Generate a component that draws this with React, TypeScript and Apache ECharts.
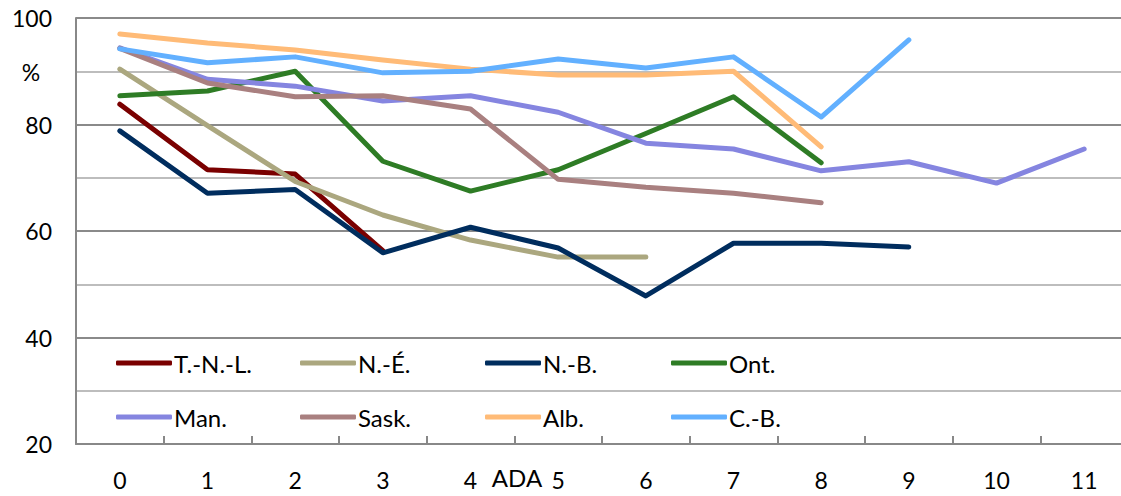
import React, { useEffect, useRef } from "react";
import * as echarts from "echarts";

const categories = ["0", "1", "2", "3", "4", "5", "6", "7", "8", "9", "10", "11"];

const seriesNames = ["T.-N.-L.", "N.-É.", "N.-B.", "Ont.", "Man.", "Sask.", "Alb.", "C.-B."];
const seriesColors = ["#7A0000", "#ABA77F", "#002D5E", "#2E7C25", "#8585E0", "#A98080", "#FFBB77", "#62B0FF"];

const tnl = [83.8, 71.5, 70.7, 56.3];
const ne = [90.4, 79.8, 69.3, 63.0, 58.3, 55.1, 55.1];
const nb = [78.8, 67.1, 67.8, 55.9, 60.7, 56.8, 47.8, 57.7, 57.7, 57.0];
const ont = [85.4, 86.3, 90.0, 73.1, 67.5, 71.5, 78.3, 85.2, 72.8];
const man = [94.4, 88.5, 87.2, 84.4, 85.4, 82.3, 76.5, 75.4, 71.3, 73.0, 69.0, 75.4];
const sask = [94.3, 87.8, 85.2, 85.4, 82.9, 69.7, 68.2, 67.1, 65.3];
const alb = [97.0, 95.3, 94.0, 92.1, 90.4, 89.3, 89.3, 90.0, 75.8];
const cb = [94.2, 91.6, 92.7, 89.7, 90.0, 92.3, 90.6, 92.7, 81.4, 95.9];

const seriesData = [tnl, ne, nb, ont, man, sask, alb, cb];

const yLabels: Record<number, string> = { 20: "20", 40: "40", 60: "60", 80: "80", 100: "100" };

const FONT = "Lato, 'Open Sans', sans-serif";

export default function App() {
  const ref = useRef<HTMLDivElement>(null);
  useEffect(() => {
    if (!ref.current) return;
    const chart = echarts.init(ref.current, null, { renderer: "svg" });
    const legendLefts = [116, 300, 485, 671];
    const legendTops = [351, 405];
    const legends = seriesNames.map((name, i) => ({
      data: [name],
      left: legendLefts[i % 4],
      top: legendTops[Math.floor(i / 4)],
      padding: 0,
      icon: "roundRect",
      itemWidth: 56,
      itemHeight: 5,
      itemStyle: { borderWidth: 0 },
      textStyle: { fontFamily: FONT, fontSize: 24, color: "#000", padding: [0, 0, 0, -3] },
      selectedMode: false,
    }));
    chart.setOption({
      animation: false,
      textStyle: { fontFamily: FONT },
      grid: { left: 76, top: 18, right: -7, bottom: 52, containLabel: false, outerBoundsMode: "none" },
      legend: legends,
      xAxis: {
        type: "category",
        data: categories,
        boundaryGap: true,
        axisLine: { show: true, lineStyle: { color: "#888", width: 2 } },
        axisTick: { show: true, inside: true, length: 8, alignWithLabel: false, lineStyle: { color: "#888", width: 2 } },
        axisLabel: { fontFamily: FONT, fontSize: 23, color: "#000", margin: 24 },
        splitLine: { show: false },
      },
      yAxis: {
        type: "value",
        min: 20,
        max: 100,
        interval: 10,
        axisLine: { show: true, lineStyle: { color: "#888", width: 2 } },
        axisTick: { show: false },
        axisLabel: {
          fontFamily: FONT,
          fontSize: 23,
          color: "#000",
          margin: 24,
          formatter: (v: number) => yLabels[v] ?? "",
        },
        splitLine: { show: true, lineStyle: { color: ["#8a8a8a", "#bdbdbd"], width: 2 } },
      },
      graphic: [
        {
          type: "text",
          x: 31,
          y: 72,
          style: { text: "%", font: `23px ${FONT}`, fill: "#000", textAlign: "center", textVerticalAlign: "middle" },
        },
        {
          type: "text",
          x: 517,
          y: 477,
          style: { text: "ADA", font: `24px ${FONT}`, fill: "#000", textAlign: "center", textVerticalAlign: "middle" },
        },
      ],
      series: seriesNames.map((name, i) => ({
        name,
        type: "line",
        data: seriesData[i],
        color: seriesColors[i],
        symbol: "none",
        showSymbol: false,
        lineStyle: { width: 5, color: seriesColors[i], cap: "round", join: "round" },
        itemStyle: { color: seriesColors[i] },
        emphasis: { disabled: true },
      })),
    });
    return () => chart.dispose();
  }, []);
  return (
    <div
      ref={ref}
      style={{ position: "fixed", left: 0, top: 0, width: 1121, height: 496, background: "#fff" }}
    />
  );
}
